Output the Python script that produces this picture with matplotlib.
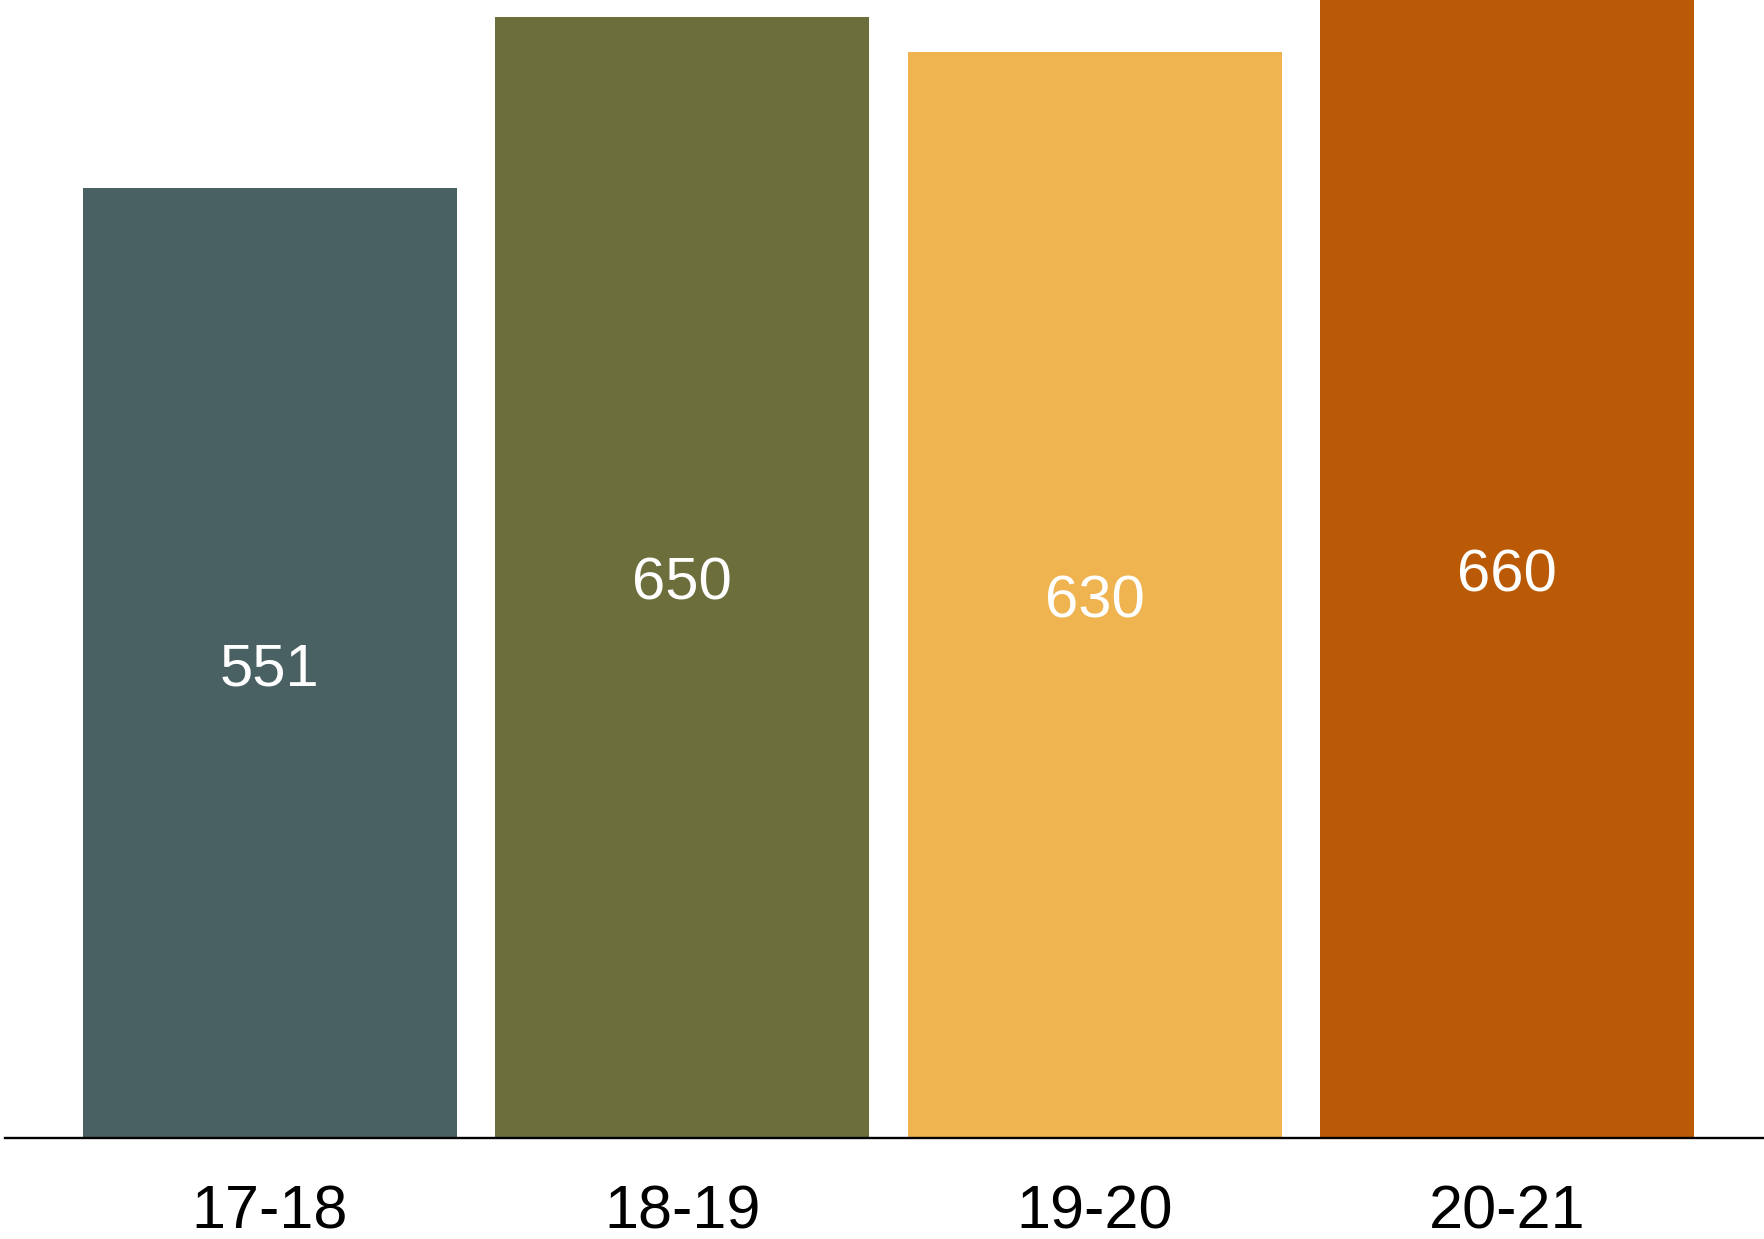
import matplotlib
matplotlib.use('Agg')
from matplotlib import pyplot as plt
import numpy as np

# data
years = ['17-18', '18-19', '19-20', '20-21']
values = [551, 650, 630, 660]
colors = ['#4a6163', '#6c6e3b', '#efb350', '#ba5a07']

def main():
	plt.rcParams['font.family'] = ['Liberation Sans', 'DejaVu Sans']

	fig = plt.figure(figsize=(17.64, 12.39), dpi=100)
	ax = fig.add_axes([0.003, 0.0819, 0.997, 0.918])

	x = np.arange(len(years))
	bars = ax.bar(x, values, width=0.907, color=colors)

	# value labels in the middle of each bar (nudged so the digits sit centred)
	for b, v in zip(bars, values):
		ax.annotate(str(v), (b.get_x() + b.get_width()/2, v/2), xytext=(0, -5),
		            textcoords='offset points', ha='center', va='center',
		            color='white', fontsize=43)

	ax.set_xlim(-0.641, 3.622)
	ax.set_ylim(0, 660)
	ax.set_xticks(x)
	ax.set_xticklabels(years, fontsize=44)
	ax.tick_params(axis='x', length=0, pad=34)
	ax.set_yticks([])

	for s in ['top', 'right', 'left']:
		ax.spines[s].set_visible(False)
	ax.spines['bottom'].set_linewidth(1.7)
	ax.spines['bottom'].set_color('black')

	plt.savefig('out.png', dpi=100)
	plt.close(fig)

if __name__ == '__main__':
	main()
